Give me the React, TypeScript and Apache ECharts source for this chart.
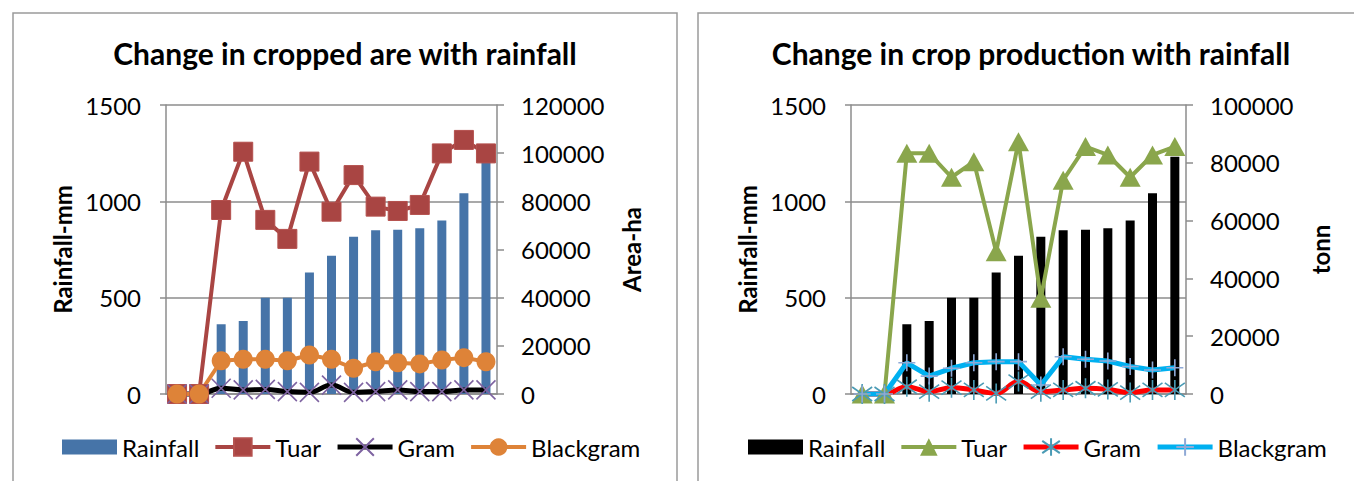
import React, { useEffect, useRef } from "react";
import * as echarts from "echarts";

// ---- data ----
const categories = ["1", "2", "3", "4", "5", "6", "7", "8", "9", "10", "11", "12", "13", "14", "15"];
const rainfall = [0, 0, 362, 379, 500, 500, 631, 718, 816, 850, 853, 860, 901, 1042, 1232];

const areaTuar = [0, 0, 76400, 100600, 72300, 64400, 96500, 75700, 90900, 77800, 76000, 78500, 99900, 105500, 99900];
const areaGram = [0, 0, 2400, 1700, 1900, 1000, 700, 3700, 700, 1000, 1700, 1000, 1000, 1700, 1700];
const areaBlackgram = [0, 0, 13800, 14400, 14400, 13800, 16200, 14400, 10700, 13400, 13000, 12500, 14100, 15100, 13400];

const prodTuar = [0, 0, 83300, 83300, 75000, 80400, 49200, 87300, 33100, 74000, 85600, 82700, 75000, 82700, 85600];
const prodGram = [0, 0, 2500, 800, 2200, 1400, 200, 4300, 800, 1400, 2000, 1600, 500, 1400, 1400];
const prodBlackgram = [0, 0, 10800, 6200, 8900, 10800, 11200, 11200, 3100, 12900, 12000, 11400, 9500, 8300, 9100];

const leftTicks = { min: 0, max: 1500, interval: 500 };
const areaTicks = { min: 0, max: 120000, interval: 20000 };
const prodTicks = { min: 0, max: 100000, interval: 20000 };

// ---- styles ----
const FONT = "Lato, 'Noto Sans', sans-serif";
const AXIS_GREY = "#8C8C8C";
const X_SYMBOL = "path://M0,0L10,10M10,0L0,10";
const STAR_SYMBOL = "path://M5,0L5,10M0,1.5L10,8.5M10,1.5L0,8.5";
const PLUS_SYMBOL = "path://M5,0L5,10M0,5L10,5";
const BAR_ICON = "path://M0,0L0.01,0L0.01,0.01ZM0,3.5L55,3.5L55,18.5L0,18.5ZM54.99,21.99L55,22L54.99,22Z";

type Cfg = {
  title: string;
  titleX: number;
  borderX: number;
  gridLeft: number;
  gridWidth: number;
  legendLeft: number;
  rightTicks: { min: number; max: number; interval: number };
  rightName: string;
  barColor: string;
  lines: any[];
};

const plain = (v: number) => String(v);

function buildOption(cfg: Cfg) {
  const axisLine = { show: true, lineStyle: { color: AXIS_GREY, width: 1.5 } };
  const axisLabel = { color: "#000", fontFamily: FONT, fontSize: 24, formatter: plain };
  const nameStyle = { color: "#000", fontFamily: FONT, fontSize: 24, fontWeight: "bold" as const };
  return {
    animation: false,
    backgroundColor: "transparent",
    graphic: [
      {
        type: "rect",
        shape: { x: cfg.borderX, y: 13, width: 664, height: 520 },
        style: { fill: "none", stroke: "#9A9A9A", lineWidth: 1.5 },
        silent: true,
      },
      {
        type: "text",
        x: cfg.titleX,
        y: 53,
        style: {
          text: cfg.title,
          fill: "#000",
          font: `bold 30px ${FONT}`,
          align: "center",
          verticalAlign: "middle",
          textAlign: "center",
          textVerticalAlign: "middle",
        },
      },
    ],
    grid: { left: cfg.gridLeft, top: 105, width: cfg.gridWidth, height: 289, containLabel: false },
    legend: {
      left: cfg.legendLeft,
      top: 435,
      padding: 0,
      itemWidth: 55,
      itemHeight: 22,
      itemGap: 14,
      selectedMode: false,
      textStyle: { color: "#000", fontFamily: FONT, fontSize: 24 },
      data: [
        { name: "Rainfall", icon: BAR_ICON },
        { name: "Tuar", lineStyle: { width: cfg.lines[0].lineStyle.width } },
        { name: "Gram", lineStyle: { width: cfg.lines[1].lineStyle.width } },
        { name: "Blackgram", lineStyle: { width: cfg.lines[2].lineStyle.width } },
      ],
    },
    xAxis: {
      type: "category",
      data: categories,
      boundaryGap: true,
      axisLine,
      axisTick: { show: false },
      axisLabel: { show: false },
      splitLine: { show: false },
    },
    yAxis: [
      {
        type: "value",
        position: "left",
        ...leftTicks,
        name: "Rainfall-mm",
        nameLocation: "middle",
        nameGap: 92,
        nameTextStyle: nameStyle,
        axisLine,
        axisTick: { show: true, length: 6, lineStyle: { color: AXIS_GREY, width: 1.5 } },
        axisLabel: { ...axisLabel, margin: 25 },
        splitLine: { show: true, lineStyle: { color: AXIS_GREY, width: 1.5 } },
      },
      {
        type: "value",
        position: "right",
        ...cfg.rightTicks,
        name: cfg.rightName,
        nameLocation: "middle",
        nameGap: 122,
        nameTextStyle: nameStyle,
        axisLine,
        axisTick: { show: true, length: 7, lineStyle: { color: AXIS_GREY, width: 1.5 } },
        axisLabel: { ...axisLabel, margin: 24 },
        splitLine: { show: false },
      },
    ],
    series: [
      {
        name: "Rainfall",
        type: "bar",
        yAxisIndex: 0,
        data: rainfall,
        barWidth: 9,
        itemStyle: { color: cfg.barColor },
      },
      ...cfg.lines.map((s) => ({ ...s, showSymbol: true, showAllSymbol: true, clip: false })),
    ],
  };
}

const chart1: Cfg = {
  title: "Change in cropped are with rainfall",
  titleX: 345,
  borderX: 13,
  gridLeft: 166,
  gridWidth: 331,
  legendLeft: 62,
  rightTicks: areaTicks,
  rightName: "Area-ha",
  barColor: "#4674A8",
  lines: [
    {
      name: "Tuar",
      type: "line",
      yAxisIndex: 1,
      data: areaTuar,
      symbol: "rect",
      symbolSize: 19,
      lineStyle: { color: "#A94543", width: 4 },
      itemStyle: { color: "#A94543", borderColor: "#B4504D", borderWidth: 1 },
    },
    {
      name: "Gram",
      type: "line",
      yAxisIndex: 1,
      data: areaGram,
      smooth: 0.4,
      symbol: X_SYMBOL,
      symbolSize: 19,
      lineStyle: { color: "#000000", width: 5 },
      itemStyle: { color: "#7E63A1", borderColor: "#7E63A1", borderWidth: 1.6 },
    },
    {
      name: "Blackgram",
      type: "line",
      yAxisIndex: 1,
      data: areaBlackgram,
      symbol: "circle",
      symbolSize: 19,
      lineStyle: { color: "#DE8338", width: 4 },
      itemStyle: { color: "#DE8338", borderColor: "#DE8338", borderWidth: 0 },
    },
  ],
};

const chart2: Cfg = {
  title: "Change in crop production with rainfall",
  titleX: 343,
  borderX: 10,
  gridLeft: 163,
  gridWidth: 335,
  legendLeft: 60,
  rightTicks: prodTicks,
  rightName: "tonn",
  barColor: "#000000",
  lines: [
    {
      name: "Tuar",
      type: "line",
      yAxisIndex: 1,
      data: prodTuar,
      symbol: "triangle",
      symbolSize: [21, 19],
      lineStyle: { color: "#8AA64C", width: 4 },
      itemStyle: { color: "#8AA64C", borderWidth: 0 },
    },
    {
      name: "Gram",
      type: "line",
      yAxisIndex: 1,
      data: prodGram,
      smooth: 0.4,
      symbol: STAR_SYMBOL,
      symbolSize: 20,
      lineStyle: { color: "#FF0000", width: 5 },
      itemStyle: { color: "#4A9BB5", borderColor: "#4A9BB5", borderWidth: 1.6 },
    },
    {
      name: "Blackgram",
      type: "line",
      yAxisIndex: 1,
      data: prodBlackgram,
      symbol: PLUS_SYMBOL,
      symbolSize: 17,
      lineStyle: { color: "#00B0F0", width: 5 },
      itemStyle: { color: "#8FA9D6", borderColor: "#8FA9D6", borderWidth: 1.6 },
    },
  ],
};

function ChartBox({ cfg, left, width }: { cfg: Cfg; left: number; width: number }) {
  const ref = useRef<HTMLDivElement>(null);
  useEffect(() => {
    if (!ref.current) return;
    const chart = echarts.init(ref.current, undefined, { renderer: "svg" });
    chart.setOption(buildOption(cfg) as any);
    return () => chart.dispose();
  }, [cfg]);
  return <div ref={ref} style={{ position: "absolute", left, top: 0, width, height: 481 }} />;
}

export default function App() {
  return (
    <div
      style={{
        position: "fixed",
        left: 0,
        top: 0,
        width: 1354,
        height: 481,
        overflow: "hidden",
        background: "#fff",
      }}
    >
      <ChartBox cfg={chart1} left={0} width={688} />
      <ChartBox cfg={chart2} left={688} width={666} />
    </div>
  );
}
